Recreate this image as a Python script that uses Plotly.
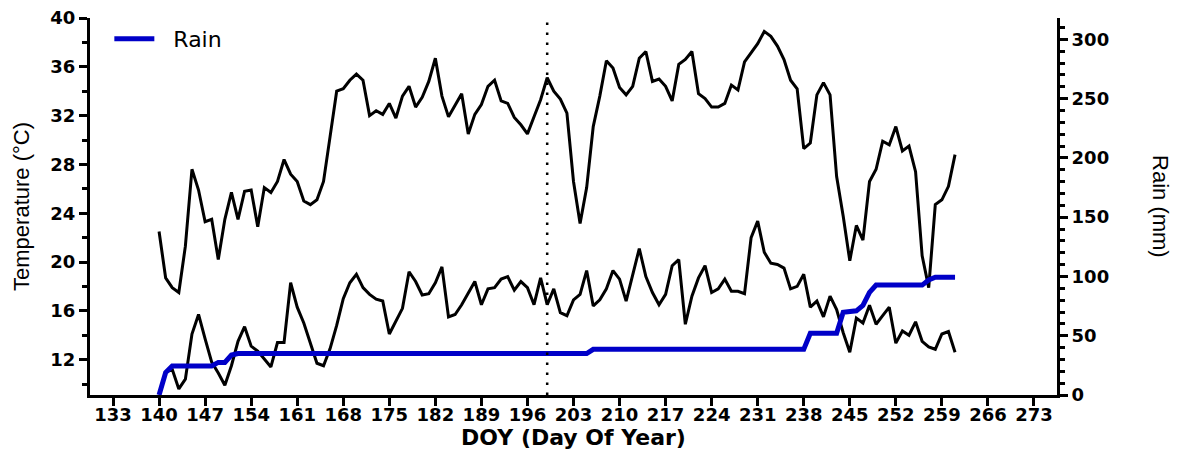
import plotly.graph_objects as go

# Day of year for each daily observation
days = list(range(140, 262))

# Daily maximum temperature (°C), DOY 140-261
tmax = [
    22.5, 18.7, 17.9, 17.5, 21.3, 27.6, 25.9, 23.3, 23.5, 20.2,   # 140-149
    23.5, 25.7, 23.5, 25.8, 25.9, 22.9, 26.1, 25.7, 26.6, 28.4,   # 150-159
    27.2, 26.6, 25.0, 24.7, 25.1, 26.6, 30.3, 34.0, 34.2, 34.9,   # 160-169
    35.4, 34.9, 32.0, 32.4, 32.1, 33.0, 31.8, 33.6, 34.4, 32.7,   # 170-179
    33.5, 34.8, 36.7, 33.6, 31.9, 32.9, 33.8, 30.5, 32.1, 32.9,   # 180-189
    34.4, 34.9, 33.2, 33.0, 31.85, 31.25, 30.5, 31.9, 33.3, 35.1, # 190-199
    34.0, 33.35, 32.2, 26.6, 23.15, 26.1, 31.1, 33.6, 36.5, 35.9, # 200-209
    34.3, 33.7, 34.4, 36.7, 37.25, 34.8, 35.0, 34.4, 33.2, 36.2,  # 210-219
    36.6, 37.25, 33.8, 33.4, 32.7, 32.7, 33.0, 34.5, 34.1, 36.4,  # 220-229
    37.1, 37.9, 38.9, 38.5, 37.7, 36.6, 34.9, 34.2, 29.3, 29.75,  # 230-239
    33.7, 34.7, 33.7, 27.0, 23.75, 20.1, 23.0, 21.8, 26.6, 27.6,  # 240-249
    29.9, 29.6, 31.1, 29.1, 29.5, 27.4, 20.5, 17.9, 24.7, 25.1,   # 250-259
    26.2, 28.8,                                                   # 260-261
]

# Daily minimum temperature (°C), DOY 140-261 (no reading on DOY 140)
tmin = [
    None, 10.95, 11.2, 9.6, 10.4, 14.1, 15.7, 13.7, 11.8, 10.9,   # 140-149
    9.9, 11.5, 13.5, 14.7, 13.1, 12.7, 12.0, 11.4, 13.4, 13.4,    # 150-159
    18.3, 16.3, 15.0, 13.4, 11.7, 11.5, 12.9, 14.8, 17.0, 18.3,   # 160-169
    19.0, 17.9, 17.35, 16.95, 16.8, 14.1, 15.2, 16.2, 19.2, 18.4, # 170-179
    17.3, 17.4, 18.3, 19.6, 15.5, 15.7, 16.5, 17.5, 18.4, 16.5,   # 180-189
    17.8, 17.9, 18.6, 18.8, 17.7, 18.4, 17.9, 16.5, 18.7, 16.5,   # 190-199
    17.8, 15.85, 15.6, 16.9, 17.35, 19.3, 16.4, 16.9, 17.8, 19.3, # 200-209
    18.6, 16.8, 19.0, 21.1, 18.8, 17.5, 16.5, 17.35, 19.7, 20.2,  # 210-219
    14.9, 17.2, 18.7, 19.7, 17.5, 17.8, 18.6, 17.6, 17.6, 17.4,   # 220-229
    22.0, 23.35, 20.8, 19.9, 19.8, 19.5, 17.8, 18.0, 19.0, 16.3,  # 230-239
    16.8, 15.5, 17.2, 16.1, 14.2, 12.6, 15.4, 15.0, 16.45, 14.9,  # 240-249
    15.6, 16.3, 13.35, 14.35, 14.0, 15.1, 13.5, 13.05, 12.85, 14.1,  # 250-259
    14.3, 12.6,                                                   # 260-261
]

# Cumulative rain (mm), DOY 140-261
rain = [
    0, 19, 24.5, 24.5, 24.5, 24.5, 24.5, 24.5, 24.5, 27.5,        # 140-149
    27.5, 33.7, 35, 35, 35, 35, 35, 35, 35, 35,                   # 150-159
    35, 35, 35, 35, 35, 35, 35, 35, 35, 35,                       # 160-169
    35, 35, 35, 35, 35, 35, 35, 35, 35, 35,                       # 170-179
    35, 35, 35, 35, 35, 35, 35, 35, 35, 35,                       # 180-189
    35, 35, 35, 35, 35, 35, 35, 35, 35, 35,                       # 190-199
    35, 35, 35, 35, 35, 35, 38.5, 38.5, 38.5, 38.5,               # 200-209
    38.5, 38.5, 38.5, 38.5, 38.5, 38.5, 38.5, 38.5, 38.5, 38.5,   # 210-219
    38.5, 38.5, 38.5, 38.5, 38.5, 38.5, 38.5, 38.5, 38.5, 38.5,   # 220-229
    38.5, 38.5, 38.5, 38.5, 38.5, 38.5, 38.5, 38.5, 38.5, 52,     # 230-239
    52, 52, 52, 52, 69.7, 70, 71, 75.5, 86.5, 92.7,               # 240-249
    92.7, 92.7, 92.7, 92.7, 92.7, 92.7, 92.7, 97, 99.3, 99.3,     # 250-259
    99.3, 99.3,                                                   # 260-261
]

x_ticks = [133, 140, 147, 154, 161, 168, 175, 182, 189, 196, 203, 210,
           217, 224, 231, 238, 245, 252, 259, 266, 273]
temp_ticks = [12, 16, 20, 24, 28, 32, 36, 40]
rain_ticks = [0, 50, 100, 150, 200, 250, 300]
marker_day = 199

FONT = "Arial"
WIDE = "DejaVu Sans"
bold_tick = dict(family=WIDE, size=18, color="black", weight="bold")

fig = go.Figure()
fig.add_trace(go.Scatter(x=days, y=tmax, mode="lines", name="Tmax",
                         line=dict(color="black", width=3), showlegend=False))
fig.add_trace(go.Scatter(x=days, y=tmin, mode="lines", name="Tmin",
                         line=dict(color="black", width=3), showlegend=False))
fig.add_trace(go.Scatter(x=days, y=rain, mode="lines", name="\u00a0\u00a0Rain", yaxis="y2",
                         line=dict(color="#0000C8", width=5), showlegend=True))

fig.add_shape(type="line", xref="x", yref="paper", x0=marker_day, x1=marker_day,
              y0=0, y1=1, line=dict(color="black", width=2.5, dash="2.5px,7.5px"))

axis_common = dict(showline=True, linecolor="black", linewidth=3, ticks="outside",
                   tickcolor="black", tickwidth=2.5, ticklen=8, showgrid=False,
                   zeroline=False, tickfont=bold_tick, automargin=False,
                   ticklabeloverflow="allow")

# The page body adds an 8px offset, so the figure is 8px smaller on each axis
fig.update_layout(
    width=1174, height=449,
    margin=dict(l=82, r=125, t=10, b=62),
    plot_bgcolor="white", paper_bgcolor="white",
    font=dict(family=FONT, color="black"),
    xaxis=dict(range=[129.5, 276.5], tickvals=x_ticks,
               ticktext=[str(t) for t in x_ticks], ticklabelstandoff=-7,
               title=dict(text="DOY (Day Of Year)", standoff=3,
                          font=dict(family=WIDE, size=22, color="black", weight="bold")),
               **axis_common),
    yaxis=dict(range=[9.1, 40], tickvals=temp_ticks,
               minor=dict(dtick=2, tick0=0, ticks="outside", ticklen=5, tickwidth=2.5,
                          tickcolor="black", showgrid=False),
               title=dict(text="Temperature (°C)", standoff=15,
                          font=dict(family=FONT, size=22, color="black")),
               **axis_common),
    yaxis2=dict(range=[0, 318], tickvals=rain_ticks, overlaying="y", side="right",
                minor=dict(dtick=10, tick0=0, ticks="outside", ticklen=5, tickwidth=2.5,
                           tickcolor="black", showgrid=False),
                **axis_common),
    legend=dict(x=0.02, y=1.0, xanchor="left", yanchor="top",
                bgcolor="rgba(0,0,0,0)", borderwidth=0,
                font=dict(family=WIDE, size=22, color="black"), itemwidth=40),
)

fig.add_annotation(text="Rain (mm)", xref="paper", yref="paper", x=1.107, y=0.5,
                   xanchor="center", yanchor="middle", textangle=90, showarrow=False,
                   font=dict(family=FONT, size=22, color="black"))

fig.write_html("out.html")
